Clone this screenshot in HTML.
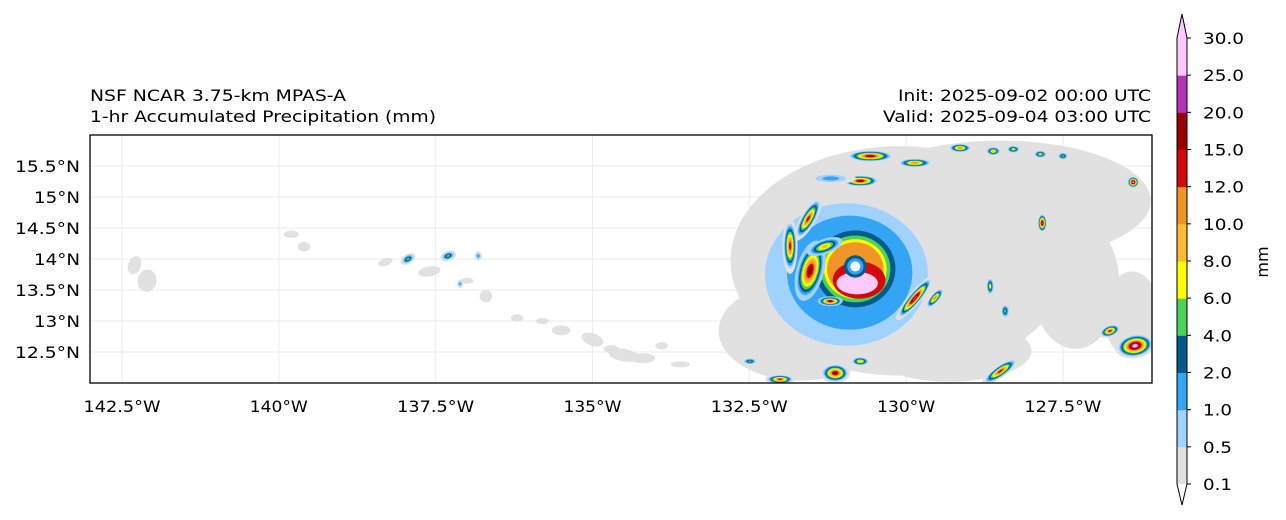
<!DOCTYPE html>
<html><head><meta charset="utf-8"><style>
html,body{margin:0;padding:0;background:#fff;}
svg{display:block;font-family:"DejaVu Sans","Liberation Sans",sans-serif;}
</style></head><body>
<svg id="chart" width="1286" height="520" viewBox="0 0 1286 520" xmlns="http://www.w3.org/2000/svg">
<defs><clipPath id="plotclip"><rect x="90" y="135" width="1062" height="248"/></clipPath></defs>
<text x="90" y="101" font-size="16" textLength="256" lengthAdjust="spacingAndGlyphs">NSF NCAR 3.75-km MPAS-A</text>
<text x="90" y="122" font-size="16" textLength="346" lengthAdjust="spacingAndGlyphs">1-hr Accumulated Precipitation (mm)</text>
<text x="1151" y="101" font-size="16" text-anchor="end" textLength="253" lengthAdjust="spacingAndGlyphs">Init: 2025-09-02 00:00 UTC</text>
<text x="1151" y="122" font-size="16" text-anchor="end" textLength="268" lengthAdjust="spacingAndGlyphs">Valid: 2025-09-04 03:00 UTC</text>
<g id="grid"></g>
<g id="field" clip-path="url(#plotclip)"></g>
<rect x="90" y="135" width="1062" height="248" fill="none" stroke="#000" stroke-width="1.3"/>
<g id="axes"></g>
<g id="cbar"></g>
<text x="0" y="0" font-size="16" text-anchor="middle" transform="translate(1268,262) rotate(-90)">mm</text>
</svg>
<script>
const levelLabels = ["0.1","0.5","1.0","2.0","4.0","6.0","8.0","10.0","12.0","15.0","20.0","25.0","30.0"];
const levelColors = ["#e1e1e1","#a0d2ff","#34a4f5","#005a8c","#4bd25a","#ffff00","#ffb932","#f09628","#d20a0a","#9b0000","#b432b4","#ffc8ff"];
const lonTicks = [-142.5,-140,-137.5,-135,-132.5,-130,-127.5];
const lonTickLabels = ["142.5°W","140°W","137.5°W","135°W","132.5°W","130°W","127.5°W"];
const latTicks = [15.5,15,14.5,14,13.5,13,12.5];
const latTickLabels = ["15.5°N","15°N","14.5°N","14°N","13.5°N","13°N","12.5°N"];
// precipitation cells: lon, lat, rx(deg), ry(deg), rotation(deg), start level, peak level
const cellLon = [-130.10,-128.50,-131.69,-127.30,-129.30,-131.40,-126.40,
 -130.95,-130.90,-130.81,-130.81,-130.81,-130.81,-130.75,-130.78,-130.81,-130.81,-130.81,-131.53,-131.21,-131.30,
 -130.57,-129.86,-130.73,-131.56,-131.85,-129.86,-129.54,-129.14,-128.61,-128.29,-127.86,-127.50,-127.83,-126.38,-126.35,-126.75,-128.50,-128.66,-128.42,-131.13,-132.01,-130.73,-132.49,-131.2,
 -137.94,-137.30,-136.82,-137.11,
 -142.3,-142.1,-139.8,-139.6,-138.3,-137.6,-137.0,-136.7,-136.2,-135.8,-135.5,-135.0,-134.7,-134.5,-134.2,-133.6,-133.9];
const cellLat = [13.97,14.94,12.84,13.60,12.52,13.20,13.10,
 13.75,13.78,13.84,13.84,13.84,13.84,13.66,13.61,13.88,13.88,13.88,13.81,13.32,14.20,
 15.66,15.55,15.26,14.65,14.21,13.37,13.37,15.79,15.74,15.77,15.69,15.66,14.58,15.24,12.60,12.84,12.19,13.56,13.16,12.16,12.06,12.35,12.35,15.30,
 14.00,14.05,14.05,13.60,
 13.90,13.65,14.40,14.20,13.95,13.80,13.65,13.40,13.05,13.00,12.85,12.70,12.55,12.45,12.40,12.30,12.60];
const cellRx = [2.70,2.40,1.30,0.70,1.30,1.00,0.45,
 1.30,1.00,0.64,0.56,0.50,0.45,0.42,0.33,0.18,0.13,0.08,0.22,0.20,0.30,
 0.40,0.30,0.32,0.12,0.12,0.45,0.22,0.20,0.13,0.12,0.12,0.10,0.08,0.10,0.32,0.18,0.35,0.07,0.08,0.24,0.24,0.16,0.13,0.4,
 0.13,0.13,0.06,0.05,
 0.10,0.15,0.12,0.10,0.12,0.18,0.10,0.10,0.10,0.10,0.15,0.18,0.12,0.25,0.2,0.15,0.1];
const cellRy = [1.85,0.97,0.80,1.05,0.50,0.60,0.70,
 1.15,0.92,0.62,0.54,0.48,0.43,0.30,0.18,0.18,0.13,0.08,0.50,0.08,0.12,
 0.10,0.08,0.10,0.40,0.45,0.10,0.08,0.08,0.08,0.07,0.07,0.07,0.16,0.10,0.20,0.10,0.10,0.16,0.13,0.16,0.08,0.08,0.06,0.1,
 0.08,0.08,0.08,0.07,
 0.15,0.18,0.06,0.08,0.06,0.08,0.05,0.10,0.06,0.05,0.08,0.10,0.06,0.10,0.08,0.05,0.06];
const cellRot = [0,0,0,0,0,0,0,
 0,0,0,0,0,0,0,0,0,0,0,15,0,-20,
 0,0,0,30,0,-50,-50,0,0,0,0,0,0,0,-10,-20,-35,0,0,0,0,0,0,0,
 -30,-20,0,0,
 20,10,0,0,-20,-10,0,-10,0,0,0,20,0,10,0,0,0];
const cellStart = [0,0,0,0,0,0,0,
 1,2,3,4,5,7,8,11,3,2,0,1,1,1,
 0,0,0,0,0,0,0,0,0,0,0,0,0,0,0,0,0,0,0,0,0,0,0,0,
 0,0,0,0,
 0,0,0,0,0,0,0,0,0,0,0,0,0,0,0,0,0];
const cellPeak = [0,0,0,0,0,0,0,
 1,2,3,4,5,7,8,11,3,2,0,9,9,6,
 9,7,9,8,8,10,7,7,6,5,5,4,10,11,11,8,8,5,4,9,8,6,4,2,
 4,4,2,2,
 0,0,0,0,0,0,0,0,0,0,0,0,0,0,0,0,0];

const X0=90,X1=1152,Y0=135,Y1=383;
const LON0=-143.01,LON1=-126.08,LAT0=16.0,LAT1=12.0;
const xs = lon => X0+(lon-LON0)/(LON1-LON0)*(X1-X0);
const ys = lat => Y0+(LAT0-lat)/(LAT0-LAT1)*(Y1-Y0);
const NS="http://www.w3.org/2000/svg";
function mk(tag, attrs, parent){const e=document.createElementNS(NS,tag);for(const k in attrs)e.setAttribute(k,attrs[k]);parent.appendChild(e);return e;}
function tlen(s){let n=0;for(const ch of s){n+= (ch==='.')?7:12;}return n-2;}
const grid=document.getElementById('grid'), field=document.getElementById('field'), axes=document.getElementById('axes'), cbar=document.getElementById('cbar');

lonTicks.forEach((lon,i)=>{
  const x=xs(lon);
  const g=mk('line',{x1:x,x2:x,y1:Y0,y2:Y1,stroke:'#ebebeb','stroke-width':1},grid);
  
  
  const t=mk('text',{x:x,y:Y1+29,'font-size':16,'text-anchor':'middle',textLength:tlen(lonTickLabels[i]),lengthAdjust:'spacingAndGlyphs'},axes);
  t.textContent=lonTickLabels[i];
  
  
});
latTicks.forEach((lat,i)=>{
  const y=ys(lat);
  const g=mk('line',{x1:X0,x2:X1,y1:y,y2:y,stroke:'#ebebeb','stroke-width':1},grid);
  
  
  const t=mk('text',{x:X0-10,y:y+6,'font-size':16,'text-anchor':'end',textLength:tlen(latTickLabels[i]),lengthAdjust:'spacingAndGlyphs'},axes);
  t.textContent=latTickLabels[i];
  
  
});

const kx=(X1-X0)/(LON1-LON0), ky=(Y1-Y0)/(LAT0-LAT1);
for(let i=0;i<cellLon.length;i++){
  const cx=xs(cellLon[i]), cy=ys(cellLat[i]), p=cellPeak[i], st=cellStart[i];
  for(let k=st;k<=p;k++){
    const s = k===st?1:(1-(k-st)/(p-st+1))*0.85+0.05;
    const e=mk('ellipse',{cx:cx,cy:cy,rx:cellRx[i]*kx*s,ry:cellRy[i]*ky*s,fill:(i===17?'#ffffff':levelColors[k]),transform:`rotate(${cellRot[i]} ${cx} ${cy})`},field);
    
    
  }
}

// colorbar
const CBX=1177, CBW=10, CBT=38, CBB=484;
const n=levelColors.length, seg=(CBB-CBT)/n;
levelColors.forEach((c,i)=>{
  const r=mk('rect',{x:CBX,y:CBB-(i+1)*seg,width:CBW,height:seg+0.5,fill:c},cbar);
  
  
});
const upArrow=mk('polygon',{points:`${CBX},${CBT} ${CBX+CBW/2},14 ${CBX+CBW},${CBT}`,fill:'#ffc8ff'},cbar);


const dnArrow=mk('polygon',{points:`${CBX},${CBB} ${CBX+CBW/2},505 ${CBX+CBW},${CBB}`,fill:'#ffffff'},cbar);


const outline=mk('polygon',{points:`${CBX},${CBT} ${CBX+CBW/2},14 ${CBX+CBW},${CBT} ${CBX+CBW},${CBB} ${CBX+CBW/2},505 ${CBX},${CBB}`,fill:'none',stroke:'#000','stroke-width':1},cbar);


levelLabels.forEach((lab,i)=>{
  const y=CBB-i*seg;
  const tk=mk('line',{x1:CBX+CBW,x2:CBX+CBW+4,y1:y,y2:y,stroke:'#000'},cbar);
  
  
  const t=mk('text',{x:CBX+CBW+16,y:y+6,'font-size':16,textLength:tlen(lab),lengthAdjust:'spacingAndGlyphs'},cbar);
  t.textContent=lab;
  
  
});
</script>
</body></html>
